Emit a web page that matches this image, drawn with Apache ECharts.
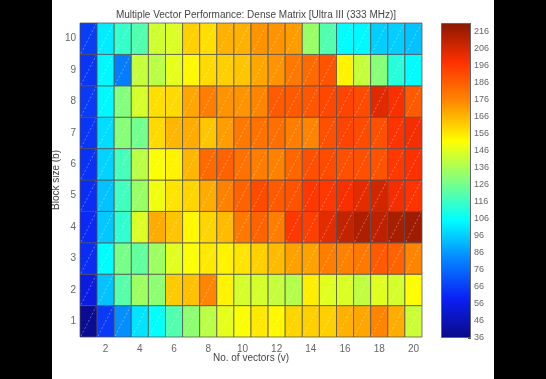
<!DOCTYPE html>
<html>
<head>
<meta charset="utf-8">
<script src="https://cdn.jsdelivr.net/npm/echarts@6/dist/echarts.min.js"></script>
<style>
html,body{margin:0;padding:0;background:#000;width:546px;height:379px;overflow:hidden;}
#chart{position:absolute;left:52px;top:0;width:442px;height:379px;background:#fff;}
</style>
</head>
<body>
<div id="chart"></div>
<script>
// Data: rows by block size b (1..10), columns by number of vectors v (1..20)
const vectors = ['1','2','3','4','5','6','7','8','9','10','11','12','13','14','15','16','17','18','19','20'];
const blockSizes = ['1','2','3','4','5','6','7','8','9','10'];
const b1  = [38,65,84,100,106,120,131,139,147,151,156,153,160,161,161,167,169,176,168,142];
const b2  = [55,94,121,134,131,162,164,176,154,144,144,141,138,155,146,145,140,146,144,152];
const b3  = [62,105,127,123,134,146,151,156,154,157,161,165,170,170,178,177,179,187,185,176];
const b4  = [61,95,114,145,168,163,153,160,165,179,185,178,196,194,203,210,214,211,215,217];
const b5  = [62,94,117,133,149,157,160,168,177,185,191,187,189,196,196,199,203,207,200,197];
const b6  = [63,97,118,139,151,154,166,183,185,181,178,177,184,190,191,190,190,189,196,198];
const b7  = [64,99,130,126,159,166,168,163,171,179,181,182,178,176,190,193,191,190,197,200];
const b8  = [65,104,129,144,158,159,169,178,173,173,176,187,187,188,192,193,191,204,199,187];
const b9  = [64,104,80,141,139,147,153,159,161,163,169,173,179,183,189,154,141,130,112,105];
const b10 = [66,102,115,120,143,145,161,158,167,167,173,173,171,133,120,105,104,96,96,94];
const colorMin = 36;
const colorMax = 221;
const colorbarTicks = [36,46,56,66,76,86,96,106,116,126,136,146,156,166,176,186,196,206,216];
const jet = ['#0a0a88','#0a20f5','#0585ff','#00ffff','#80ff80','#ffff00','#ff8a00','#ff3000','#8a1800'];

const rows = [b1,b2,b3,b4,b5,b6,b7,b8,b9,b10];
const cells = [];
rows.forEach((r, yi) => r.forEach((v, xi) => cells.push([xi, yi, v])));

function renderCell(params, api) {
  const p = api.coord([api.value(0), api.value(1)]);
  const s = api.size([1, 1]);
  const w = s[0], h = s[1];
  const x0 = p[0] - w / 2, y0 = p[1] - h / 2;
  return {
    type: 'group',
    children: [
      { type: 'rect', shape: { x: x0, y: y0, width: w, height: h },
        style: { fill: api.visual('color'), stroke: 'rgba(80,80,80,0.75)', lineWidth: 1 } },
      { type: 'line', shape: { x1: x0 + 1, y1: y0 + h - 1, x2: x0 + w - 1, y2: y0 + 1 },
        style: { stroke: 'rgba(255,255,255,0.35)', lineWidth: 1, lineDash: [2, 2] } }
    ]
  };
}

const chart = echarts.init(document.getElementById('chart'), null, { renderer: 'canvas' });
const font = 'Liberation Sans, Arial, sans-serif';
const stops = jet.map((c, i) => ({ offset: i / (jet.length - 1), color: c }));

chart.setOption({
  animation: false,
  backgroundColor: '#fff',
  textStyle: { fontFamily: font },
  title: {
    text: 'Multiple Vector Performance: Dense Matrix [Ultra III (333 MHz)]',
    left: 199, top: 5, textAlign: 'center',
    textStyle: { fontSize: 10, fontWeight: 'normal', color: '#444', fontFamily: font }
  },
  grid: [
    { left: 28, top: 23, width: 342, height: 314, containLabel: false, outerBoundsMode: 'none' },
    { left: 389, top: 23, width: 30, height: 315, containLabel: false, outerBoundsMode: 'none' }
  ],
  xAxis: [
    {
      type: 'category', gridIndex: 0, data: vectors, boundaryGap: true,
      name: 'No. of vectors (v)', nameLocation: 'middle', nameGap: 16, nameMoveOverlap: false,
      nameTextStyle: { fontSize: 10, color: '#444' },
      axisLine: { show: false },
      axisTick: { show: false },
      axisLabel: { interval: (i) => i % 2 === 1, fontSize: 10, color: '#666', margin: 7 },
      splitLine: { show: false }
    },
    {
      type: 'category', gridIndex: 1, data: [''], boundaryGap: true,
      axisLine: { show: false }, axisTick: { show: false }, axisLabel: { show: false }
    }
  ],
  yAxis: [
    {
      type: 'category', gridIndex: 0, data: blockSizes, boundaryGap: true,
      name: 'Block size (b)', nameLocation: 'middle', nameGap: 19, nameRotate: 90, nameMoveOverlap: false,
      nameTextStyle: { fontSize: 10, color: '#444' },
      axisLine: { show: false },
      axisTick: { show: false },
      axisLabel: { fontSize: 10, color: '#666', margin: 4 },
      splitLine: { show: false }
    },
    {
      type: 'value', gridIndex: 1, position: 'right',
      min: 0, max: colorMax - colorMin, interval: 10,
      axisLine: { show: false },
      axisTick: { show: true, inside: true, length: 3, lineStyle: { color: '#555' } },
      axisLabel: { fontSize: 9, color: '#666', margin: 3,
        formatter: (v) => { const t = v + colorMin; return colorbarTicks.includes(t) ? String(t) : ''; } },
      splitLine: { show: false }
    }
  ],
  visualMap: {
    type: 'continuous', show: false, seriesIndex: 0, dimension: 2,
    min: colorMin, max: colorMax, inRange: { color: jet }
  },
  series: [
    {
      type: 'custom', xAxisIndex: 0, yAxisIndex: 0,
      renderItem: renderCell, encode: { x: 0, y: 1 }, data: cells
    },
    {
      type: 'bar', xAxisIndex: 1, yAxisIndex: 1, barWidth: '100%',
      data: [colorMax - colorMin], silent: true,
      itemStyle: {
        color: new echarts.graphic.LinearGradient(0, 1, 0, 0, stops),
        borderColor: '#666', borderWidth: 1
      }
    }
  ]
});
</script>
</body>
</html>
